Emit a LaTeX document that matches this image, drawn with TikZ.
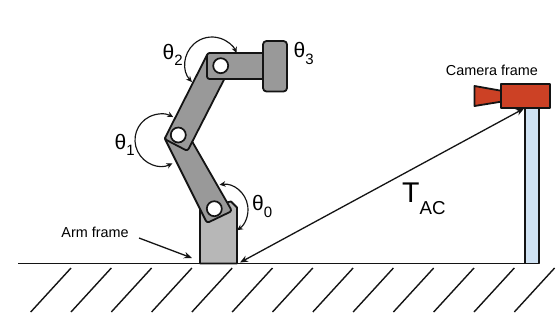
\documentclass[tikz,border=0pt]{standalone}
\usepackage{fontspec}
\setmainfont{Liberation Sans}
\usetikzlibrary{arrows.meta}
\definecolor{linkgray}{HTML}{999999}
\definecolor{basegray}{HTML}{B7B7B7}
\definecolor{camred}{HTML}{CC4125}
\definecolor{poleblue}{HTML}{CFE2F3}
\newcommand{\jointlabel}[2]{{\fontsize{21}{21}\selectfont #1}\raisebox{-6.5pt}{\fontsize{15}{15}\selectfont #2}}
\tikzset{
  outlined/.style={draw=black!92,line width=1.8pt,line join=round},
  linkbar/.style={outlined,fill=linkgray,rounded corners=2.5pt},
  pivot/.style={circle,draw=black!92,line width=1.7pt,fill=white,minimum size=15pt,inner sep=0pt},
  hatch/.style={line width=1.4pt,draw=black!92},
  joint/.style={line width=1.15pt,draw=black!92,{Stealth[length=6pt,width=5.5pt]}-{Stealth[length=6pt,width=5.5pt]}},
  pointer/.style={line width=1.3pt,draw=black!92,-{Stealth[length=8pt,width=6.5pt]}},
  span/.style={line width=1.3pt,draw=black!92,{Stealth[length=8pt,width=6.5pt]}-{Stealth[length=8pt,width=6.5pt]}},
  caption/.style={inner sep=0pt,anchor=center,font=\fontsize{14.4}{14.4}\selectfont},
  anglabel/.style={inner sep=0pt,anchor=base west}
}
\begin{document}
\begin{tikzpicture}[x=1pt,y=-1pt]
\useasboundingbox (0,0) rectangle (559,317);
\fill[white] (0,0) rectangle (559,317);

% ground and its hatching
\coordinate (groundL) at (18,263.5);
\coordinate (groundR) at (525,263.5);
\draw[line width=1.7pt,draw=black!92] (groundL) -- (groundR);
\foreach \x in {71,111.3,151.6,191.9,232.2,272.5,312.8,353.1,393.4,433.7,474,514.3,554.6}
  \draw[hatch] (\x,268) -- ++(-40.3,44);

% camera mount
\draw[outlined,fill=poleblue] (525,108) rectangle (539,263.5);

% camera
\draw[outlined,fill=camred] (474.5,86) -- (501,90.7) -- (501,101.7) -- (474.5,106) -- cycle;
\draw[outlined,fill=camred] (501,84.3) rectangle (549.7,108);

% arm base
\draw[outlined,fill=basegray] (200,263.5) -- (200,208) -- (231,201.5) -- (237,207.5) -- (237,263.5) -- cycle;

% arm links, lowest first
\draw[linkbar] (164,137) -- (207,223) -- (232,211) -- (189,136) -- cycle;
\draw[linkbar] (164.5,139) -- (208,53) -- (232,64) -- (187.5,151) -- cycle;
\draw[linkbar] (207,53) rectangle (266,79);
\draw[outlined,fill=linkgray,rounded corners=3.5pt] (263,41) rectangle (287,91.5);

% pivots
\node[pivot] (pivotA) at (214.3,208.7) {};
\node[pivot] (pivotB) at (178.3,135) {};
\node[pivot] (pivotC) at (220.7,65.7) {};

% joint angle arcs
\coordinate (arcZero) at (223,209.5);
\coordinate (arcOne) at (161,140);
\coordinate (arcTwo) at (212,64);
\draw[joint] ([shift={(-98:25)}]arcZero) arc[start angle=-98,end angle=56,radius=25];
\draw[joint] ([shift={(64:26)}]arcOne) arc[start angle=64,end angle=298,radius=26];
\draw[joint] ([shift={(138:27)}]arcTwo) arc[start angle=138,end angle=336,radius=27];

% frame connectors
\coordinate (armTip) at (192,258);
\coordinate (armTail) at (139,238);
\coordinate (baseFoot) at (240,262.5);
\coordinate (camFoot) at (524,108.5);
\draw[pointer] (armTail) -- (armTip);
\draw[span] (baseFoot) -- (camFoot);

% labels
\node[caption] (armLabel) at (95,232) {Arm frame};
\node[caption] (camLabel) at (492,70) {Camera frame};
\node[anglabel] (thetaZero) at (252,210.5) {\jointlabel{θ}{0}};
\node[anglabel] (thetaOne) at (114.5,149) {\jointlabel{θ}{1}};
\node[anglabel] (thetaTwo) at (162.5,59) {\jointlabel{θ}{2}};
\node[anglabel] (thetaThree) at (293.5,57.5) {\jointlabel{θ}{3}};
\node[anglabel] (tac) at (402,202.7) {{\fontsize{28.5}{28.5}\selectfont T}\raisebox{-11.3pt}{\fontsize{18.7}{18.7}\selectfont AC}};
\end{tikzpicture}
\end{document}
